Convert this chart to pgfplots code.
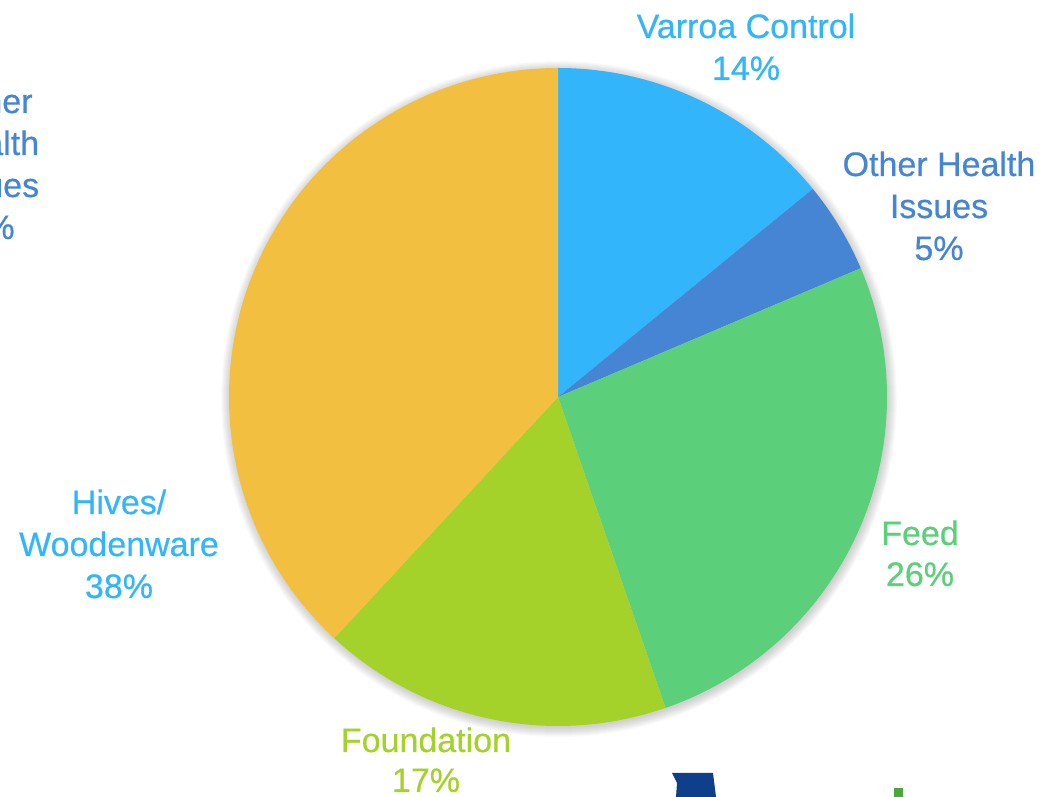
\documentclass[border=0pt]{standalone}
\usepackage{pgfplots}
\pgfplotsset{compat=1.18}
\usepackage{fontspec}
\setmainfont[FakeBold=0.5]{Liberation Sans}
\definecolor{cVarroa}{HTML}{33B5FC}
\definecolor{cOther}{HTML}{4585D4}
\definecolor{cFeed}{HTML}{5BCF79}
\definecolor{cFound}{HTML}{A5D12B}
\definecolor{cHives}{HTML}{F3BF40}
\definecolor{cNavy}{HTML}{0F3F8A}
\definecolor{cLogoG}{HTML}{4CA83A}
% shares in percent, clockwise from 12 o'clock
\def\slices{14.1/cVarroa, 4.5/cOther, 26.1/cFeed, 17.2/cFound, 38.1/cHives}
\newcommand\lab[4]{\node[anchor=base,text=#1,font=\fontsize{34}{40}\selectfont] at (axis cs:#2,#3) {#4};}
\begin{document}
\begin{tikzpicture}
\useasboundingbox (0,0) rectangle (1042pt,797pt);
\clip (0,0) rectangle (1042pt,797pt);
\begin{axis}[at={(0,0)},anchor=south west,scale only axis,width=1042pt,height=797pt,
  xmin=0,xmax=1042,ymin=0,ymax=797,hide axis,clip=false]
% soft shadow
\pgfplotsinvokeforeach{1,...,10}{
  \fill[black,opacity=0.018] (axis cs:559,398) circle[radius={328pt+#1*1pt}];
}
\xdef\startang{90}
\foreach \v/\c in \slices {
  \pgfmathsetmacro\endang{\startang-3.6*\v}
  \edef\cmd{\noexpand\fill[\c] (axis cs:558,400) -- ++(\startang:329pt) arc[start angle=\startang, end angle=\endang, radius=329pt] -- cycle;}
  \cmd
  \xdef\startang{\endang}
}
% labels (y = 797 - pixel row of baseline)
\lab{cVarroa}{746}{759}{Varroa Control}
\lab{cVarroa}{746}{717}{14\%}
\lab{cOther}{939}{621}{Other Health}
\lab{cOther}{939}{579}{Issues}
\lab{cOther}{939}{537}{5\%}
\lab{cFeed}{920}{252}{Feed}
\lab{cFeed}{920}{211}{26\%}
\lab{cFound}{426}{45}{Foundation}
\lab{cFound}{426}{5}{17\%}
\lab{cVarroa}{119}{283}{Hives/}
\lab{cVarroa}{119}{241}{Woodenware}
\lab{cVarroa}{119}{199}{38\%}
% cropped label from neighbouring chart
\lab{cOther}{-10}{684}{Other}
\lab{cOther}{-10}{642}{Health}
\lab{cOther}{-10}{600}{Issues}
\lab{cOther}{-10}{558}{5\%}
% partial logo
\fill[cNavy] (axis cs:672,24) -- (axis cs:713,24) -- (axis cs:716,0) -- (axis cs:676,0) -- (axis cs:677,14) -- cycle;
\fill[cLogoG] (axis cs:894,9) rectangle (axis cs:903,0);
\end{axis}
\end{tikzpicture}
\end{document}
